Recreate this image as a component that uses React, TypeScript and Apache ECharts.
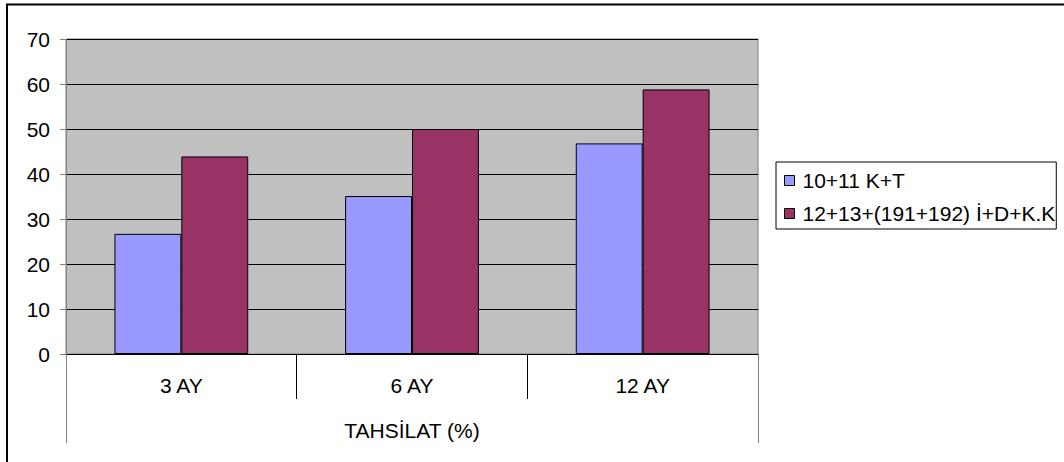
import React, { useEffect, useRef } from "react";
import * as echarts from "echarts";

const categories = ["3 AY", "6 AY", "12 AY"];
const groupLabel = ["TAHSİLAT (%)"];
const seriesNames = ["10+11 K+T", "12+13+(191+192) İ+D+K.K"];
const seriesKT = [26.7, 35.1, 46.8];
const seriesIDKK = [43.9, 50, 58.8];

const FONT = "'Liberation Sans', Arial, sans-serif";

export default function App() {
  const ref = useRef<HTMLDivElement>(null);
  useEffect(() => {
    document.body.style.margin = "0";
    const chart = echarts.init(ref.current!, null, { renderer: "svg" });
    chart.setOption({
      animation: false,
      backgroundColor: "#ffffff",
      textStyle: { fontFamily: FONT, color: "#000" },
      graphic: [
        {
          type: "rect",
          shape: { x: 7, y: 4.5, width: 1200, height: 600 },
          style: { fill: "none", stroke: "#000", lineWidth: 2 },
          silent: true,
        },
      ],
      grid: {
        left: 66,
        top: 39,
        right: 306,
        bottom: 108,
        show: true,
        backgroundColor: "#c0c0c0",
        borderColor: "#808080",
        borderWidth: 1,
      },
      legend: {
        orient: "vertical",
        left: 776,
        top: 162,
        padding: [8, 1, 5, 8],
        itemGap: 12,
        itemWidth: 10,
        itemHeight: 10,
        itemStyle: { borderColor: "#000", borderWidth: 1 },
        icon: "rect",
        borderColor: "#000",
        borderWidth: 1,
        textStyle: { fontSize: 21, fontFamily: FONT, color: "#000", padding: [0, 0, 0, 3] },
        data: seriesNames,
      },
      xAxis: [
        {
          type: "category",
          data: categories,
          position: "bottom",
          axisLine: { show: true, lineStyle: { color: "#000", width: 1 } },
          axisTick: { show: true, length: 45, interval: 0, lineStyle: { color: "#000" } },
          axisLabel: { fontSize: 21, color: "#000", fontFamily: FONT, margin: 21 },
          splitLine: { show: false },
          z: 2,
        },
        {
          type: "category",
          data: groupLabel,
          position: "bottom",
          axisLine: { show: false },
          axisTick: { show: true, length: 89, lineStyle: { color: "#808080" } },
          axisLabel: { fontSize: 21, color: "#000", fontFamily: FONT, margin: 66 },
          splitLine: { show: false },
          z: 5,
        },
      ],
      yAxis: {
        type: "value",
        min: 0,
        max: 70,
        interval: 10,
        axisLine: { show: true, lineStyle: { color: "#808080" } },
        axisTick: { show: true, length: 6, lineStyle: { color: "#808080" } },
        axisLabel: { fontSize: 21, color: "#000", fontFamily: FONT, margin: 16 },
        splitLine: { show: true, lineStyle: { color: "#000", width: 1 } },
      },
      series: [
        {
          name: seriesNames[0],
          type: "bar",
          data: seriesKT,
          barGap: "0%",
          barCategoryGap: "42%",
          itemStyle: { color: "#9999ff", borderColor: "#000", borderWidth: 1 },
        },
        {
          name: seriesNames[1],
          type: "bar",
          data: seriesIDKK,
          barGap: "0%",
          barCategoryGap: "42%",
          itemStyle: { color: "#993366", borderColor: "#000", borderWidth: 1 },
        },
      ],
    });
    return () => chart.dispose();
  }, []);
  return (
    <div
      ref={ref}
      style={{ position: "fixed", left: 0, top: 0, width: 1064, height: 462 }}
    />
  );
}
